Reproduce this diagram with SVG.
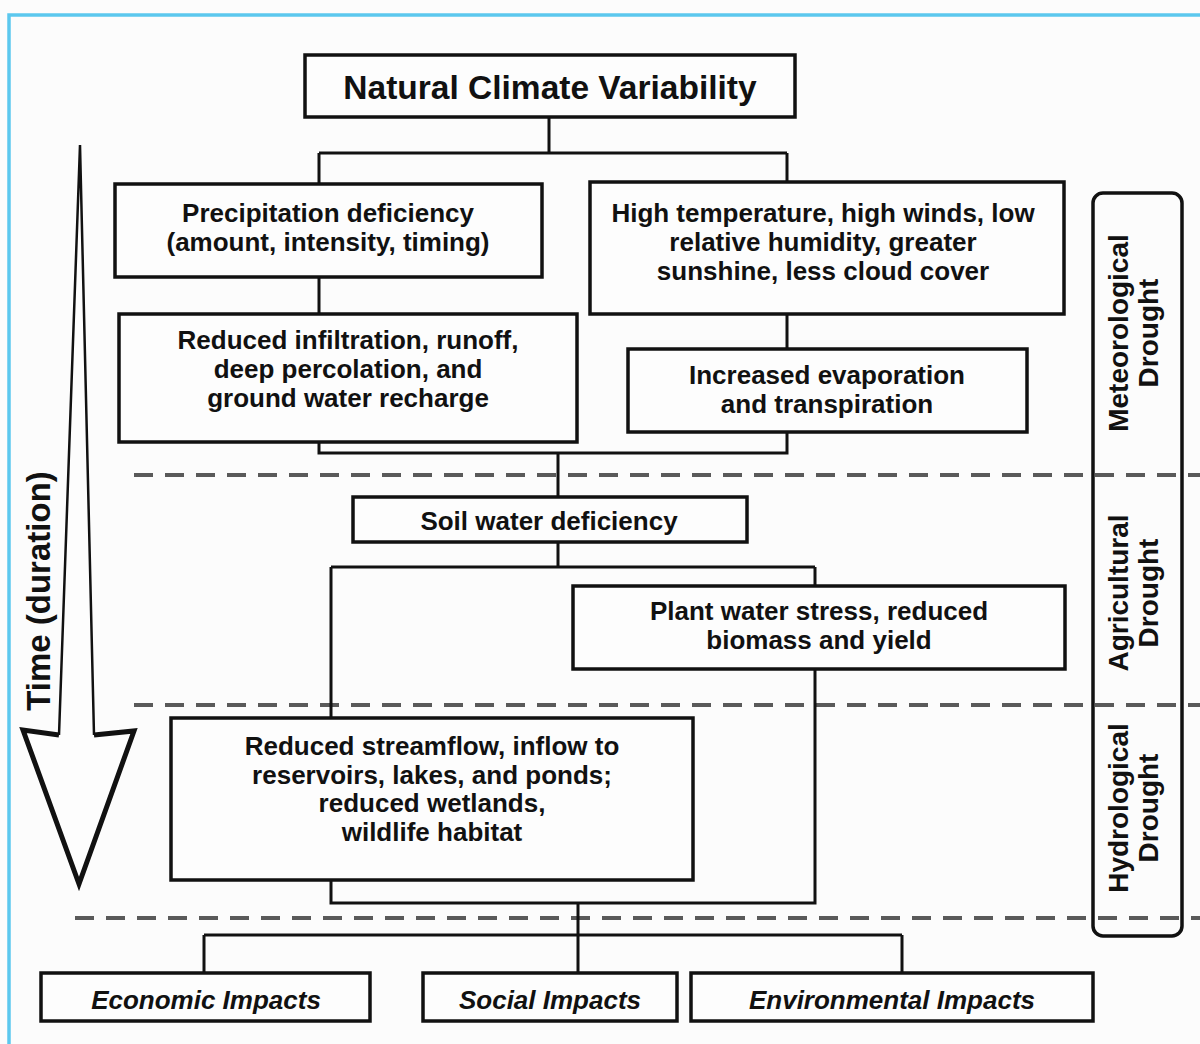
<svg xmlns="http://www.w3.org/2000/svg" width="1200" height="1044" viewBox="0 0 1200 1044">
<style>
.bg{fill:#fcfcfc}
.frame{fill:none;stroke:#5cc8ee;stroke-width:3.5}
.box{fill:#fdfdfd;stroke:#111;stroke-width:3.5}
.lbl{fill:none;stroke:#111;stroke-width:3.5}
.con{fill:none;stroke:#111;stroke-width:3}
.dash{fill:none;stroke:#5a5a5a;stroke-width:4;stroke-dasharray:19 12}
.t{font-family:"Liberation Sans",Arial,sans-serif;font-weight:bold;font-size:26px;text-anchor:middle;fill:#111}
.big{font-size:33.5px}
.it{font-style:italic}
.time{font-size:33px}
.rot{font-size:28px}
</style>
<rect class="bg" x="0" y="0" width="1200" height="1044"/>
<rect class="frame" x="9" y="15" width="1220" height="1060"/>

<g id="dividers">
<line class="dash" x1="134" y1="475" x2="1200" y2="475"/>
<line class="dash" x1="134" y1="705" x2="1200" y2="705"/>
<line class="dash" x1="75" y1="918" x2="1200" y2="918"/>
</g>

<g id="time-arrow">
<polygon points="80,145 94,735 134,731 79,884 23,730 59,735" fill="#fdfdfd" stroke="none"/>
<path d="M59,735 L80,145 L94,735" fill="none" stroke="#111" stroke-width="2.5" stroke-linejoin="bevel"/>
<path d="M59,735 L23,730 L79,884 L134,731 L94,735" fill="none" stroke="#111" stroke-width="5" stroke-linejoin="miter"/>
<text class="t time" transform="translate(50,591) rotate(-90)">Time (duration)</text>
</g>

<g id="connectors">
<path class="con" d="M549,117 V153 M319,153 H787 M319,153 V184 M787,153 V182"/>
<path class="con" d="M319,277 V314 M787,314 V349"/>
<path class="con" d="M319,442 V453 H787 V432 M558,453 V497"/>
<path class="con" d="M558,542 V567 M331,567 H815 M331,567 V718 M815,567 V586"/>
<path class="con" d="M815,669 V903 H331 V880 M578,903 V973"/>
<path class="con" d="M204,935 H902 M204,935 V973 M902,935 V973"/>
</g>

<g id="n-natural">
<rect class="box" x="305" y="55" width="490" height="62"/>
<text class="t big" x="550" y="99">Natural Climate Variability</text>
</g>

<g id="n-precip">
<rect class="box" x="115" y="184" width="427" height="93"/>
<text class="t" x="328" y="222">Precipitation deficiency</text>
<text class="t" x="328" y="251">(amount, intensity, timing)</text>
</g>

<g id="n-hightemp">
<rect class="box" x="590" y="182" width="474" height="132"/>
<text class="t" x="823" y="222">High temperature, high winds, low</text>
<text class="t" x="823" y="251">relative humidity, greater</text>
<text class="t" x="823" y="280">sunshine, less cloud cover</text>
</g>

<g id="n-infiltration">
<rect class="box" x="119" y="314" width="458" height="128"/>
<text class="t" x="348" y="349">Reduced infiltration, runoff,</text>
<text class="t" x="348" y="378">deep percolation, and</text>
<text class="t" x="348" y="407">ground water recharge</text>
</g>

<g id="n-evap">
<rect class="box" x="628" y="349" width="399" height="83"/>
<text class="t" x="827" y="384">Increased evaporation</text>
<text class="t" x="827" y="413">and transpiration</text>
</g>

<g id="n-soil">
<rect class="box" x="353" y="497" width="394" height="45"/>
<text class="t" x="549" y="530">Soil water deficiency</text>
</g>

<g id="n-plant">
<rect class="box" x="573" y="586" width="492" height="83"/>
<text class="t" x="819" y="620">Plant water stress, reduced</text>
<text class="t" x="819" y="649">biomass and yield</text>
</g>

<g id="n-streamflow">
<rect class="box" x="171" y="718" width="522" height="162"/>
<text class="t" x="432" y="755">Reduced streamflow, inflow to</text>
<text class="t" x="432" y="784">reservoirs, lakes, and ponds;</text>
<text class="t" x="432" y="812">reduced wetlands,</text>
<text class="t" x="432" y="841">wildlife habitat</text>
</g>

<g id="n-economic">
<rect class="box" x="41" y="973" width="329" height="48"/>
<text class="t it" x="206" y="1009">Economic Impacts</text>
</g>

<g id="n-social">
<rect class="box" x="423" y="973" width="254" height="48"/>
<text class="t it" x="550" y="1009">Social Impacts</text>
</g>

<g id="n-environmental">
<rect class="box" x="691" y="973" width="402" height="48"/>
<text class="t it" x="892" y="1009">Environmental Impacts</text>
</g>

<g id="drought-labels">
<rect class="lbl" x="1093" y="193" width="89" height="743" rx="10"/>
<text class="t rot" transform="translate(1128,333) rotate(-90)">Meteorological</text>
<text class="t rot" transform="translate(1158,333) rotate(-90)">Drought</text>
<text class="t rot" transform="translate(1128,593) rotate(-90)">Agricultural</text>
<text class="t rot" transform="translate(1158,593) rotate(-90)">Drought</text>
<text class="t rot" transform="translate(1128,808) rotate(-90)">Hydrological</text>
<text class="t rot" transform="translate(1158,808) rotate(-90)">Drought</text>
</g>
</svg>
